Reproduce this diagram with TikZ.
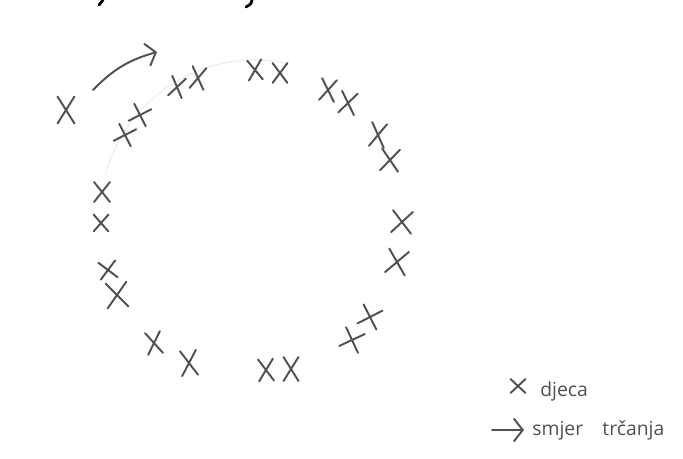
\documentclass[tikz,border=0pt]{standalone}
\usepackage{fontspec}
\setsansfont{Open Sans}
\usepackage{xcolor}
\definecolor{pencil}{RGB}{80,80,80}
\definecolor{pencilfaint}{RGB}{238,238,238}
\usetikzlibrary{arrows.meta,shapes.misc,positioning}
\tikzset{
    kidmark/.style    = {cross out, draw=pencil, line width=1.1pt, inner sep=0pt,
                         line cap=round},
    runarrow/.style   = {-{Straight Barb[length=1.8mm,width=4.6mm]}, draw=pencil,
                         line width=1.1pt, line cap=round},
    legendtext/.style = {font=\sffamily\fontsize{11}{13}\selectfont, text=pencil,
                         anchor=base west, inner sep=0pt},
    guideline/.style  = {draw=pencilfaint, line width=0.7pt}
}
\begin{document}
\begin{tikzpicture}[x=0.02cm, y=-0.02cm]
\useasboundingbox (0,0) rectangle (683,458);
\draw[black, line width=1.6pt, line cap=round] (103,0) -- (99,5);
\draw[black, line width=1.6pt, line cap=round] (252,0) .. controls (251,4) .. (246,7);
\draw[guideline] (255,215) ++(195:155) arc[start angle=195, end angle=282, radius=155];
\foreach \x/\y/\w/\h/\r [count=\i] in {
   66/110/15/25/0, 125/135/16/16/-18, 140/115/16/16/-18,
   177/87/12/18/-12, 198/78/12/20/-8, 255/70/12/18/5, 280/73/13/18/0,
   328/90/13/20/-8, 348/103/14/20/-10, 378/135/13/22/-8, 390/160/16/20/-5,
   402/222/18/20/-5, 397/262/18/22/-10, 370/317/18/18/-18, 352/340/18/18/-20,
   291/369/13/22/0, 266/370/13/20/3, 189/363/14/23/5, 154/343/13/20/8,
   117/295/19/23/5, 108/270/15/15/8, 101/223/13/15/0, 102/192/14/18/0}
   \node[kidmark, minimum width=\w*0.2mm, minimum height=\h*0.2mm, rotate=\r]
      (kid\i) at (\x,\y) {};
\coordinate (runstart) at (93,90);
\coordinate (runend)   at (157,52);
\draw[runarrow] (runstart) to[bend left=15] (runend);
\node[kidmark, minimum width=2.6mm, minimum height=2.4mm] (legkid) at (518,386) {};
\node[legendtext] (legkidtext) at (540,396) {djeca};
\coordinate (legstart) at (492,430);
\coordinate (legend)   at (524,430);
\draw[runarrow] (legstart) -- (legend);
\node[legendtext] (legruntext) at (532,435) {smjer\quad trčanja};
\end{tikzpicture}
\end{document}
